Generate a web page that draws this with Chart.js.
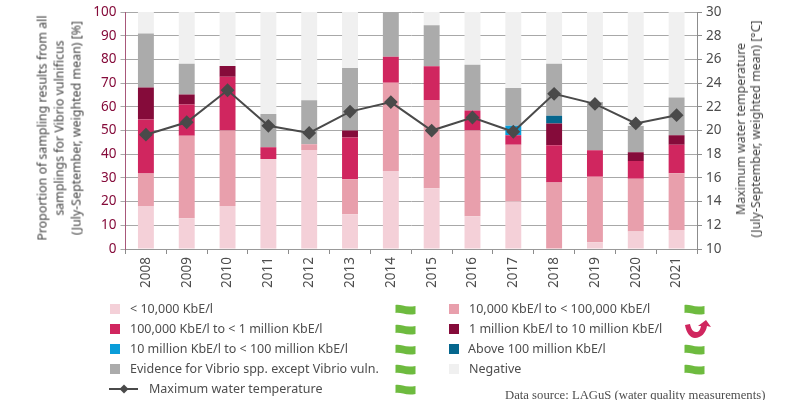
<!DOCTYPE html>
<html>
<head>
<meta charset="utf-8">
<script src="https://cdn.jsdelivr.net/npm/chart.js@4"></script>
<style>
html, body { margin: 0; padding: 0; background: #fff; overflow: hidden; }
#wrap { position: relative; width: 800px; height: 400px; overflow: hidden; font-family: "Noto Sans", sans-serif; color: #4d4d4d; }
#chart { position: absolute; left: 0; top: 0; }
.sw { position: absolute; width: 10px; height: 10px; }
.lb { position: absolute; font-size: 12.5px; line-height: 16px; letter-spacing: 0; white-space: nowrap; }
.ic { position: absolute; }
.axt { position: absolute; font-size: 12.4px; text-align: center; white-space: nowrap; color: #444; transform: translate(-50%, -50%) rotate(-90deg); }
#source { position: absolute; left: 505px; top: 388px; font: 12.7px "Liberation Serif", serif; white-space: nowrap; color: #4d4d4d; }
</style>
</head>
<body>
<div id="wrap">
  <canvas id="chart" width="800" height="400"></canvas>
  <div class="axt" style="left:59px;top:128px;line-height:17px">Proportion of sampling results from all<br>samplings for Vibrio vulnificus<br>(July-September, weighted mean) [%]</div>
  <div class="axt" style="left:747.5px;top:129px;line-height:15px">Maximum water temperature<br>(July-September, weighted mean) [°C]</div>
  <div id="legend"></div>
  <div id="source">Data source: LAGuS (water quality measurements)</div>
</div>
<script>
const years = ['2008','2009','2010','2011','2012','2013','2014','2015','2016','2017','2018','2019','2020','2021'];

const below10k = [18.2,13,18.2,38,41.8,14.7,32.9,25.6,13.8,20.1,0,2.8,7.4,8];
const to100k = [13.7,34.8,31.8,0,2.4,14.7,37.3,37.3,36.2,23.9,28.1,27.7,22.3,24];
const to1m = [22.8,13.2,22.7,5,0,17.7,10.9,14.2,8.5,4,15.7,11.2,7.4,12];
const to10m = [13.5,4.2,4.5,0,0,2.9,0,0,0,0,9.2,0,3.7,4];
const to100m = [0,0,0,0,0,0,0,0,0,4,0,0,0,0];
const above100m = [0,0,0,0,0,0,0,0,0,0,3.2,0,0,0];
const otherVibrio = [22.8,13,0,14,18.6,26.4,18.9,17.3,19.3,16,22,20.3,11.1,15.9];
const negative = [9,21.8,22.8,43,37.2,23.6,0,5.6,22.2,32,21.8,38,48.1,36.1];
const maxTemp = [19.65,20.7,23.4,20.4,19.8,21.6,22.4,20,21.1,19.9,23.1,22.25,20.6,21.3];

const leftTicks = [0,10,20,30,40,50,60,70,80,90,100];
const rightTicks = [10,12,14,16,18,20,22,24,26,28,30];

const cLight = '#f4d0d8', cMid = '#e89fac', cHot = '#d0265f', cDark = '#850b3a';
const cBlue = '#0a9dd9', cTeal = '#05668d', cGrey = '#ababab', cNeg = '#f0f0f0', cLine = '#4a4a4a';

function bar(label, data, color) {
    return { type: 'bar', label: label, data: data, backgroundColor: color, yAxisID: 'y', order: 2, barPercentage: 0.39, categoryPercentage: 1 };
}

const tickFont = { family: 'Noto Sans', size: 13.5 };

new Chart(document.getElementById('chart').getContext('2d'), {
    data: {
        labels: years,
        datasets: [
            bar('< 10,000 KbE/l', below10k, cLight),
            bar('10,000 KbE/l to < 100,000 KbE/l', to100k, cMid),
            bar('100,000 KbE/l to < 1 million KbE/l', to1m, cHot),
            bar('1 million KbE/l to 10 million KbE/l', to10m, cDark),
            bar('10 million KbE/l to < 100 million KbE/l', to100m, cBlue),
            bar('Above 100 million KbE/l', above100m, cTeal),
            bar('Evidence for Vibrio spp. except Vibrio vuln.', otherVibrio, cGrey),
            bar('Negative', negative, cNeg),
            {
                type: 'line', label: 'Maximum water temperature', data: maxTemp, yAxisID: 'y2', order: 1,
                borderColor: cLine, borderWidth: 2, tension: 0,
                pointStyle: 'rectRot', pointRadius: 5.5, pointBackgroundColor: cLine, pointBorderColor: cLine
            }
        ]
    },
    options: {
        responsive: false,
        animation: false,
        layout: { padding: { left: 0, right: 0, top: 11, bottom: 111 } },
        plugins: { legend: { display: false }, tooltip: { enabled: false } },
        scales: {
            x: {
                stacked: true,
                afterFit: s => { s.height = 40; },
                grid: { drawOnChartArea: false, drawTicks: true, tickLength: 5, color: '#8c8c8c', offset: true },
                border: { display: true, color: '#999' },
                ticks: { minRotation: 90, maxRotation: 90, color: '#4d4d4d', font: { family: 'Noto Sans', size: 13.5 }, padding: 3, autoSkip: false }
            },
            y: {
                stacked: true, min: 0, max: 100, position: 'left',
                afterFit: s => { s.width = 125.5; },
                afterBuildTicks: s => { s.ticks = leftTicks.map(v => ({ value: v })); },
                grid: { color: '#a8a8a8', lineWidth: 1, tickLength: 5, tickColor: '#a8a8a8' },
                border: { color: '#a8587a' },
                ticks: { color: '#850b3a', font: tickFont, padding: 4 }
            },
            y2: {
                min: 10, max: 30, position: 'right',
                afterFit: s => { s.width = 103; },
                afterBuildTicks: s => { s.ticks = rightTicks.map(v => ({ value: v })); },
                grid: { drawOnChartArea: false, tickLength: 5, tickColor: '#8c8c8c' },
                border: { color: '#8c8c8c' },
                ticks: { color: '#4d4d4d', font: tickFont, padding: 4 }
            }
        }
    }
});

// legend + trend icons
const legendRows = [
    { text: '< 10,000 KbE/l', color: cLight, sx: 110, tx: 130, y: 309, ix: 395 },
    { text: '100,000 KbE/l to < 1 million KbE/l', color: cHot, sx: 110, tx: 130, y: 329, ix: 395 },
    { text: '10 million KbE/l to < 100 million KbE/l', color: cBlue, sx: 110, tx: 130, y: 349, ix: 395 },
    { text: 'Evidence for Vibrio spp. except Vibrio vuln.', color: cGrey, sx: 110, tx: 130, y: 369, ix: 395 },
    { text: 'Maximum water temperature', line: true, sx: 110, tx: 149, y: 389, ix: 395 },
    { text: '10,000 KbE/l to < 100,000 KbE/l', color: cMid, sx: 449, tx: 469, y: 309, ix: 684 },
    { text: '1 million KbE/l to 10 million KbE/l', color: cDark, sx: 449, tx: 469, y: 329, ix: 684, up: true },
    { text: 'Above 100 million KbE/l', color: cTeal, sx: 449, tx: 468, y: 349, ix: 684 },
    { text: 'Negative', color: cNeg, sx: 449, tx: 469, y: 369, ix: 684 }
];
const wave = '<svg class="ic" width="21" height="12" style="left:{x}px;top:{y}px"><path d="M0.5 1 C6 0 10 4 20.5 2 V10 C11 12 6 8 0.5 9 Z" fill="#6ebb3f"/></svg>';
const arrow = '<svg class="ic" width="28" height="22" style="left:{x}px;top:{y}px"><path d="M1 6 L6 5 C7 10 9 13 12 13 C15 13 16 11 17 7 L14 7 L22 1 L27 8 L23 7 C22 14 17 19 11 19 C6 19 2 13 1 6 Z" fill="#d0265f"/></svg>';
let html = '';
legendRows.forEach(r => {
    if (r.line) {
        html += '<svg class="ic" width="32" height="12" style="left:' + (r.sx - 1) + 'px;top:' + (r.y - 6) + 'px"><line x1="0" y1="6" x2="29" y2="6" stroke="' + cLine + '" stroke-width="2"/><path d="M15 1.5 L19.5 6 L15 10.5 L10.5 6 Z" fill="' + cLine + '"/></svg>';
    } else {
        html += '<div class="sw" style="left:' + r.sx + 'px;top:' + (r.y - 5) + 'px;background:' + r.color + '"></div>';
    }
    const t = document.createElement('span');
    t.textContent = r.text;
    html += '<div class="lb" style="left:' + r.tx + 'px;top:' + (r.y - 8) + 'px">' + t.innerHTML + '</div>';
    if (r.up) {
        html += arrow.replace('{x}', r.ix).replace('{y}', r.y - 10);
    } else {
        html += wave.replace('{x}', r.ix).replace('{y}', r.y - 5);
    }
});
document.getElementById('legend').innerHTML = html;
</script>
</body>
</html>
